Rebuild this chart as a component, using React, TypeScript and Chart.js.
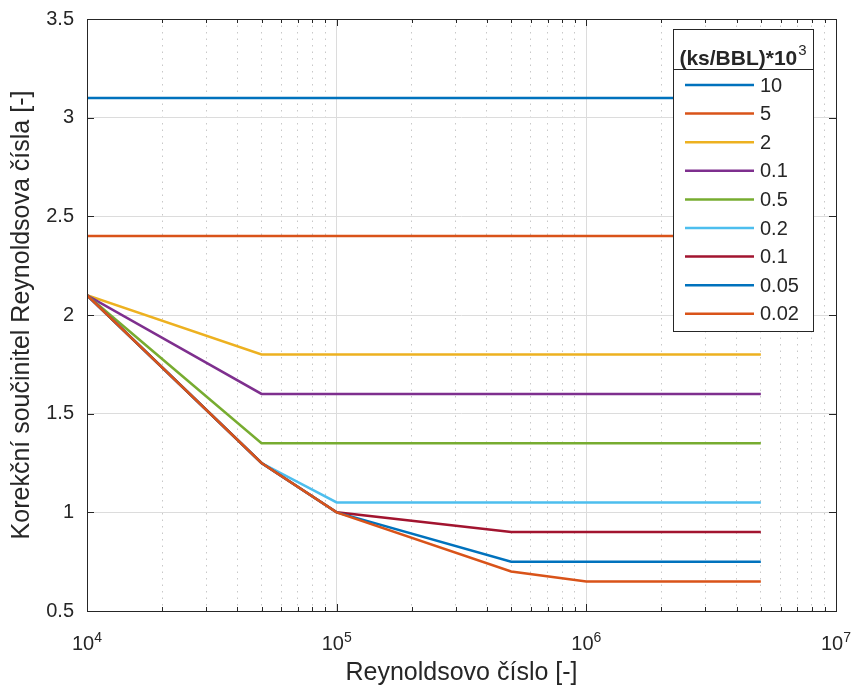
import React, { useEffect, useRef } from 'react';
import { Chart, registerables } from 'chart.js';

Chart.register(...registerables);

const FONT = '"Liberation Sans", Arial, Helvetica, sans-serif';
const AXIS_COLOR = '#262626';

// ---- Data ----
const legendTitleBase = '(ks/BBL)*10';
const legendTitleExp = '3';
const seriesLabels = ['10', '5', '2', '0.1', '0.5', '0.2', '0.1', '0.05', '0.02'];
const seriesColors = ['#0072BD', '#D95319', '#EDB120', '#7E2F8E', '#77AC30', '#4DBEEE', '#A2142F', '#0072BD', '#D95319'];

const re_10 = [1e4, 5e6];
const k_10 = [3.1, 3.1];
const re_5 = [1e4, 5e6];
const k_5 = [2.4, 2.4];
const re_2 = [1e4, 5e4, 5e6];
const k_2 = [2.1, 1.8, 1.8];
const re_01a = [1e4, 5e4, 5e6];
const k_01a = [2.1, 1.6, 1.6];
const re_05 = [1e4, 5e4, 5e6];
const k_05 = [2.1, 1.35, 1.35];
const re_02 = [1e4, 5e4, 1e5, 5e6];
const k_02 = [2.1, 1.25, 1.05, 1.05];
const re_01b = [1e4, 5e4, 1e5, 5e5, 5e6];
const k_01b = [2.1, 1.25, 1.0, 0.9, 0.9];
const re_005 = [1e4, 5e4, 1e5, 5e5, 5e6];
const k_005 = [2.1, 1.25, 1.0, 0.75, 0.75];
const re_002 = [1e4, 5e4, 1e5, 5e5, 1e6, 5e6];
const k_002 = [2.1, 1.25, 1.0, 0.7, 0.65, 0.65];

const seriesX = [re_10, re_5, re_2, re_01a, re_05, re_02, re_01b, re_005, re_002];
const seriesY = [k_10, k_5, k_2, k_01a, k_05, k_02, k_01b, k_005, k_002];

const xMajorTicks = [1e4, 1e5, 1e6, 1e7];
const xMajorBase = ['10', '10', '10', '10'];
const xMajorExp = ['4', '5', '6', '7'];
const xMinorMultipliers = [2, 3, 4, 5, 6, 7, 8, 9];
const yMin = 0.5;
const yMax = 3.5;
const yStep = 0.5;
const xTitle = 'Reynoldsovo číslo [-]';
const yTitle = 'Korekční součinitel Reynoldsova čísla [-]';

const majorIndex = (value: number) => xMajorTicks.findIndex((v) => Math.abs(v - value) / v < 1e-9);

// ---- Plugins ----
const framePlugin = {
  id: 'matlabFrame',
  afterDatasetsDraw(chart: any) {
    const { ctx, chartArea: a } = chart;
    const xs = chart.scales.x;
    const ys = chart.scales.y;
    ctx.save();
    ctx.strokeStyle = AXIS_COLOR;
    ctx.lineWidth = 1;
    ctx.beginPath();
    for (const t of xs.ticks) {
      const px = Math.round(xs.getPixelForValue(t.value)) + 0.5;
      const len = t.major ? 7 : 4;
      ctx.moveTo(px, a.bottom);
      ctx.lineTo(px, a.bottom - len);
      ctx.moveTo(px, a.top);
      ctx.lineTo(px, a.top + len);
    }
    for (const t of ys.ticks) {
      const py = Math.round(ys.getPixelForValue(t.value)) + 0.5;
      ctx.moveTo(a.left, py);
      ctx.lineTo(a.left + 7, py);
      ctx.moveTo(a.right, py);
      ctx.lineTo(a.right - 7, py);
    }
    ctx.stroke();
    ctx.strokeRect(Math.round(a.left) + 0.5, Math.round(a.top) + 0.5, Math.round(a.right - a.left), Math.round(a.bottom - a.top));

    // power-of-ten tick labels with raised exponent
    ctx.fillStyle = AXIS_COLOR;
    ctx.textAlign = 'left';
    ctx.textBaseline = 'alphabetic';
    for (const t of xs.ticks) {
      const idx = majorIndex(t.value);
      if (idx < 0) continue;
      const px = xs.getPixelForValue(t.value);
      ctx.font = `20px ${FONT}`;
      const bw = ctx.measureText(xMajorBase[idx]).width;
      ctx.font = `14px ${FONT}`;
      const ew = ctx.measureText(xMajorExp[idx]).width;
      const sx = px - (bw + ew) / 2;
      ctx.font = `20px ${FONT}`;
      ctx.fillText(xMajorBase[idx], sx, a.bottom + 39);
      ctx.font = `14px ${FONT}`;
      ctx.fillText(xMajorExp[idx], sx + bw, a.bottom + 31);
    }
    ctx.restore();
  },
};

const legendPlugin = {
  id: 'matlabLegend',
  afterDraw(chart: any) {
    const { ctx, chartArea: a } = chart;
    const w = 140;
    const h = 302;
    const x0 = Math.round(a.right - 23 - w);
    const y0 = Math.round(a.top + 10);
    ctx.save();
    ctx.fillStyle = '#ffffff';
    ctx.fillRect(x0, y0, w, h);
    ctx.strokeStyle = AXIS_COLOR;
    ctx.lineWidth = 1;
    ctx.strokeRect(x0 + 0.5, y0 + 0.5, w, h);
    const sepY = y0 + 40;
    ctx.beginPath();
    ctx.moveTo(x0, sepY + 0.5);
    ctx.lineTo(x0 + w, sepY + 0.5);
    ctx.stroke();

    ctx.fillStyle = AXIS_COLOR;
    ctx.textBaseline = 'alphabetic';
    ctx.textAlign = 'left';
    ctx.font = `bold 21px ${FONT}`;
    const baseW = ctx.measureText(legendTitleBase).width;
    ctx.font = `15px ${FONT}`;
    const expW = ctx.measureText(legendTitleExp).width;
    const start = x0 + (w - baseW - expW - 1) / 2;
    ctx.font = `bold 21px ${FONT}`;
    ctx.fillText(legendTitleBase, start, y0 + 36);
    ctx.font = `15px ${FONT}`;
    ctx.fillText(legendTitleExp, start + baseW + 1, y0 + 26);

    ctx.font = `20px ${FONT}`;
    ctx.textBaseline = 'middle';
    chart.data.datasets.forEach((ds: any, i: number) => {
      const cy = sepY + 16 + i * 28.6;
      ctx.strokeStyle = ds.borderColor;
      ctx.lineWidth = 2.5;
      ctx.beginPath();
      ctx.moveTo(x0 + 12, cy);
      ctx.lineTo(x0 + 81, cy);
      ctx.stroke();
      ctx.fillStyle = AXIS_COLOR;
      ctx.fillText(ds.label, x0 + 87, cy + 1);
    });
    ctx.restore();
  },
};

export default function App() {
  const canvasRef = useRef<HTMLCanvasElement | null>(null);

  useEffect(() => {
    const canvas = canvasRef.current;
    if (!canvas) return;
    Chart.defaults.font.family = FONT;
    Chart.defaults.color = AXIS_COLOR;

    const datasets = seriesLabels.map((label, i) => ({
      label,
      data: seriesX[i].map((x, j) => ({ x, y: seriesY[i][j] })),
      borderColor: seriesColors[i],
      backgroundColor: seriesColors[i],
      borderWidth: 2.5,
      pointRadius: 0,
      tension: 0,
      fill: false,
      order: seriesLabels.length - i,
    }));

    const chart = new Chart(canvas, {
      type: 'line',
      data: { datasets },
      options: {
        animation: false,
        responsive: false,
        devicePixelRatio: 1,
        layout: { padding: { top: 19, right: 19, left: 0, bottom: 0 } },
        plugins: {
          legend: { display: false },
          tooltip: { enabled: false },
        },
        scales: {
          x: {
            type: 'logarithmic',
            min: xMajorTicks[0],
            max: xMajorTicks[xMajorTicks.length - 1],
            afterBuildTicks: (scale: any) => {
              const t: any[] = [];
              xMajorTicks.forEach((v, d) => {
                t.push({ value: v, major: true });
                if (d < xMajorTicks.length - 1) {
                  xMinorMultipliers.forEach((m) => t.push({ value: v * m, major: false }));
                }
              });
              scale.ticks = t;
            },
            afterFit: (scale: any) => {
              scale.height = 77;
              scale.paddingLeft = 0;
              scale.paddingRight = 0;
              scale.paddingTop = 0;
              scale.paddingBottom = 0;
            },
            ticks: {
              autoSkip: false,
              maxRotation: 0,
              minRotation: 0,
              padding: 20,
              font: { size: 20 },
              color: AXIS_COLOR,
              callback: () => '',
            },
            grid: {
              drawTicks: false,
              color: (c: any) => (c.tick && c.tick.major ? '#dcdcdc' : '#c8c8c8'),
              lineWidth: 1,
            },
            border: {
              display: false,
              dash: (c: any) => (c.tick && !c.tick.major ? [1.5, 5] : []),
            },
            title: {
              display: true,
              text: xTitle,
              font: { size: 25 },
              color: AXIS_COLOR,
              padding: { top: 0, bottom: 0 },
            },
          },
          y: {
            type: 'linear',
            min: yMin,
            max: yMax,
            afterFit: (scale: any) => {
              scale.width = 87;
              scale.paddingLeft = 0;
              scale.paddingRight = 0;
              scale.paddingTop = 0;
              scale.paddingBottom = 0;
            },
            ticks: {
              stepSize: yStep,
              padding: 13,
              font: { size: 20 },
              color: AXIS_COLOR,
              callback: (value: any) => String(Number(value)),
            },
            grid: {
              drawTicks: false,
              color: '#dcdcdc',
              lineWidth: 1,
            },
            border: { display: false },
            title: {
              display: true,
              text: yTitle,
              font: { size: 25 },
              color: AXIS_COLOR,
              padding: { top: 7, bottom: 0 },
            },
          },
        },
      },
      plugins: [framePlugin, legendPlugin],
    } as any);

    return () => chart.destroy();
  }, []);

  return (
    <div style={{ position: 'fixed', left: 0, top: 0, width: 855, height: 688, background: '#ffffff' }}>
      <canvas ref={canvasRef} width={855} height={688} style={{ display: 'block' }} />
    </div>
  );
}
